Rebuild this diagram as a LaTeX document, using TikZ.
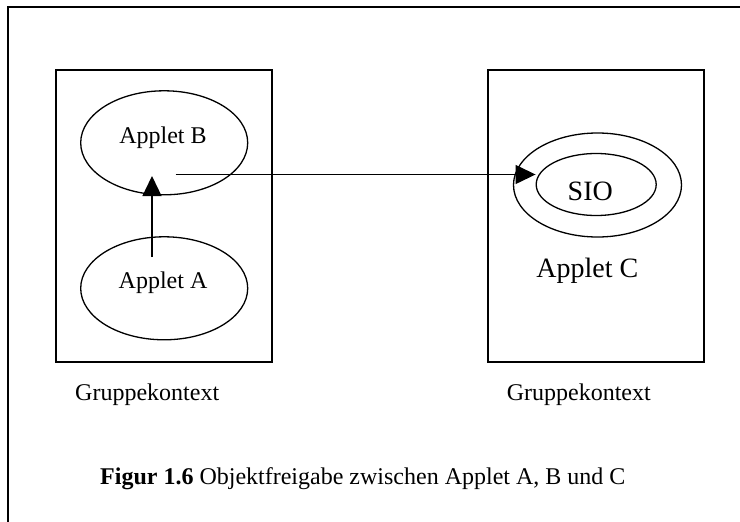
\documentclass[tikz,border=0pt]{standalone}
\usepackage{fontspec}
\setmainfont{Liberation Serif}
\usetikzlibrary{arrows.meta,shapes.geometric}
\begin{document}
\begin{tikzpicture}[x=1pt,y=-1pt,
  frame/.style={line width=2pt},
  ctx/.style={draw,line width=1.5pt,inner sep=0pt,minimum width=216pt,minimum height=292pt},
  oval/.style={draw,ellipse,line width=1.3pt,inner sep=0pt},
  lbl/.style={anchor=base,font=\fontsize{24}{28}\selectfont,inner sep=0pt},
  biglbl/.style={anchor=base,font=\fontsize{28}{32}\selectfont,inner sep=0pt},
  link/.style={line width=1.3pt,-{Triangle[length=20pt,width=19pt]}}]
\useasboundingbox (0,0) rectangle (740,522);

% open frame around the figure
\draw[frame] (8,540) -- (8,7.3) -- (760,7.3);

% group contexts
\node[ctx] (ctxleft)  at (164,216) {};
\node[ctx] (ctxright) at (595.9,216) {};
\node[lbl] (ctxleftlbl)  at (147.2,400) {Gruppekontext};
\node[lbl] (ctxrightlbl) at (578.8,400) {Gruppekontext};

% applets in the left context
\node[oval,minimum width=167pt,minimum height=104pt] (appB) at (164.2,142.8) {};
\node[lbl] (appBlbl) at (163,143.3) {Applet B};
\node[oval,minimum width=167pt,minimum height=103pt] (appA) at (164.2,288.3) {};
\node[lbl] (appAlbl) at (163,288.3) {Applet A};

% applet C with its shareable interface object
\node[oval,minimum width=168pt,minimum height=104pt] (appC) at (597.5,185) {};
\node[oval,minimum width=120pt,minimum height=62pt] (sio) at (596.2,184.5) {};
\node[biglbl] (siolbl) at (590.3,200.7) {SIO};
\node[biglbl] (appClbl) at (587.3,277.7) {Applet C};

% object sharing
\coordinate (upfrom) at (152,257);
\coordinate (uptip) at (152,176);
\draw[link] (upfrom) -- (uptip);
\coordinate (sharefrom) at (175.7,174.5);
\draw[link] (sharefrom) -- (sharefrom -| sio.west);

% caption
\node[lbl,anchor=base west] (caption) at (100,484)
  {\textbf{Figur 1.6} Objektfreigabe zwischen Applet A, B und C};
\end{tikzpicture}
\end{document}
